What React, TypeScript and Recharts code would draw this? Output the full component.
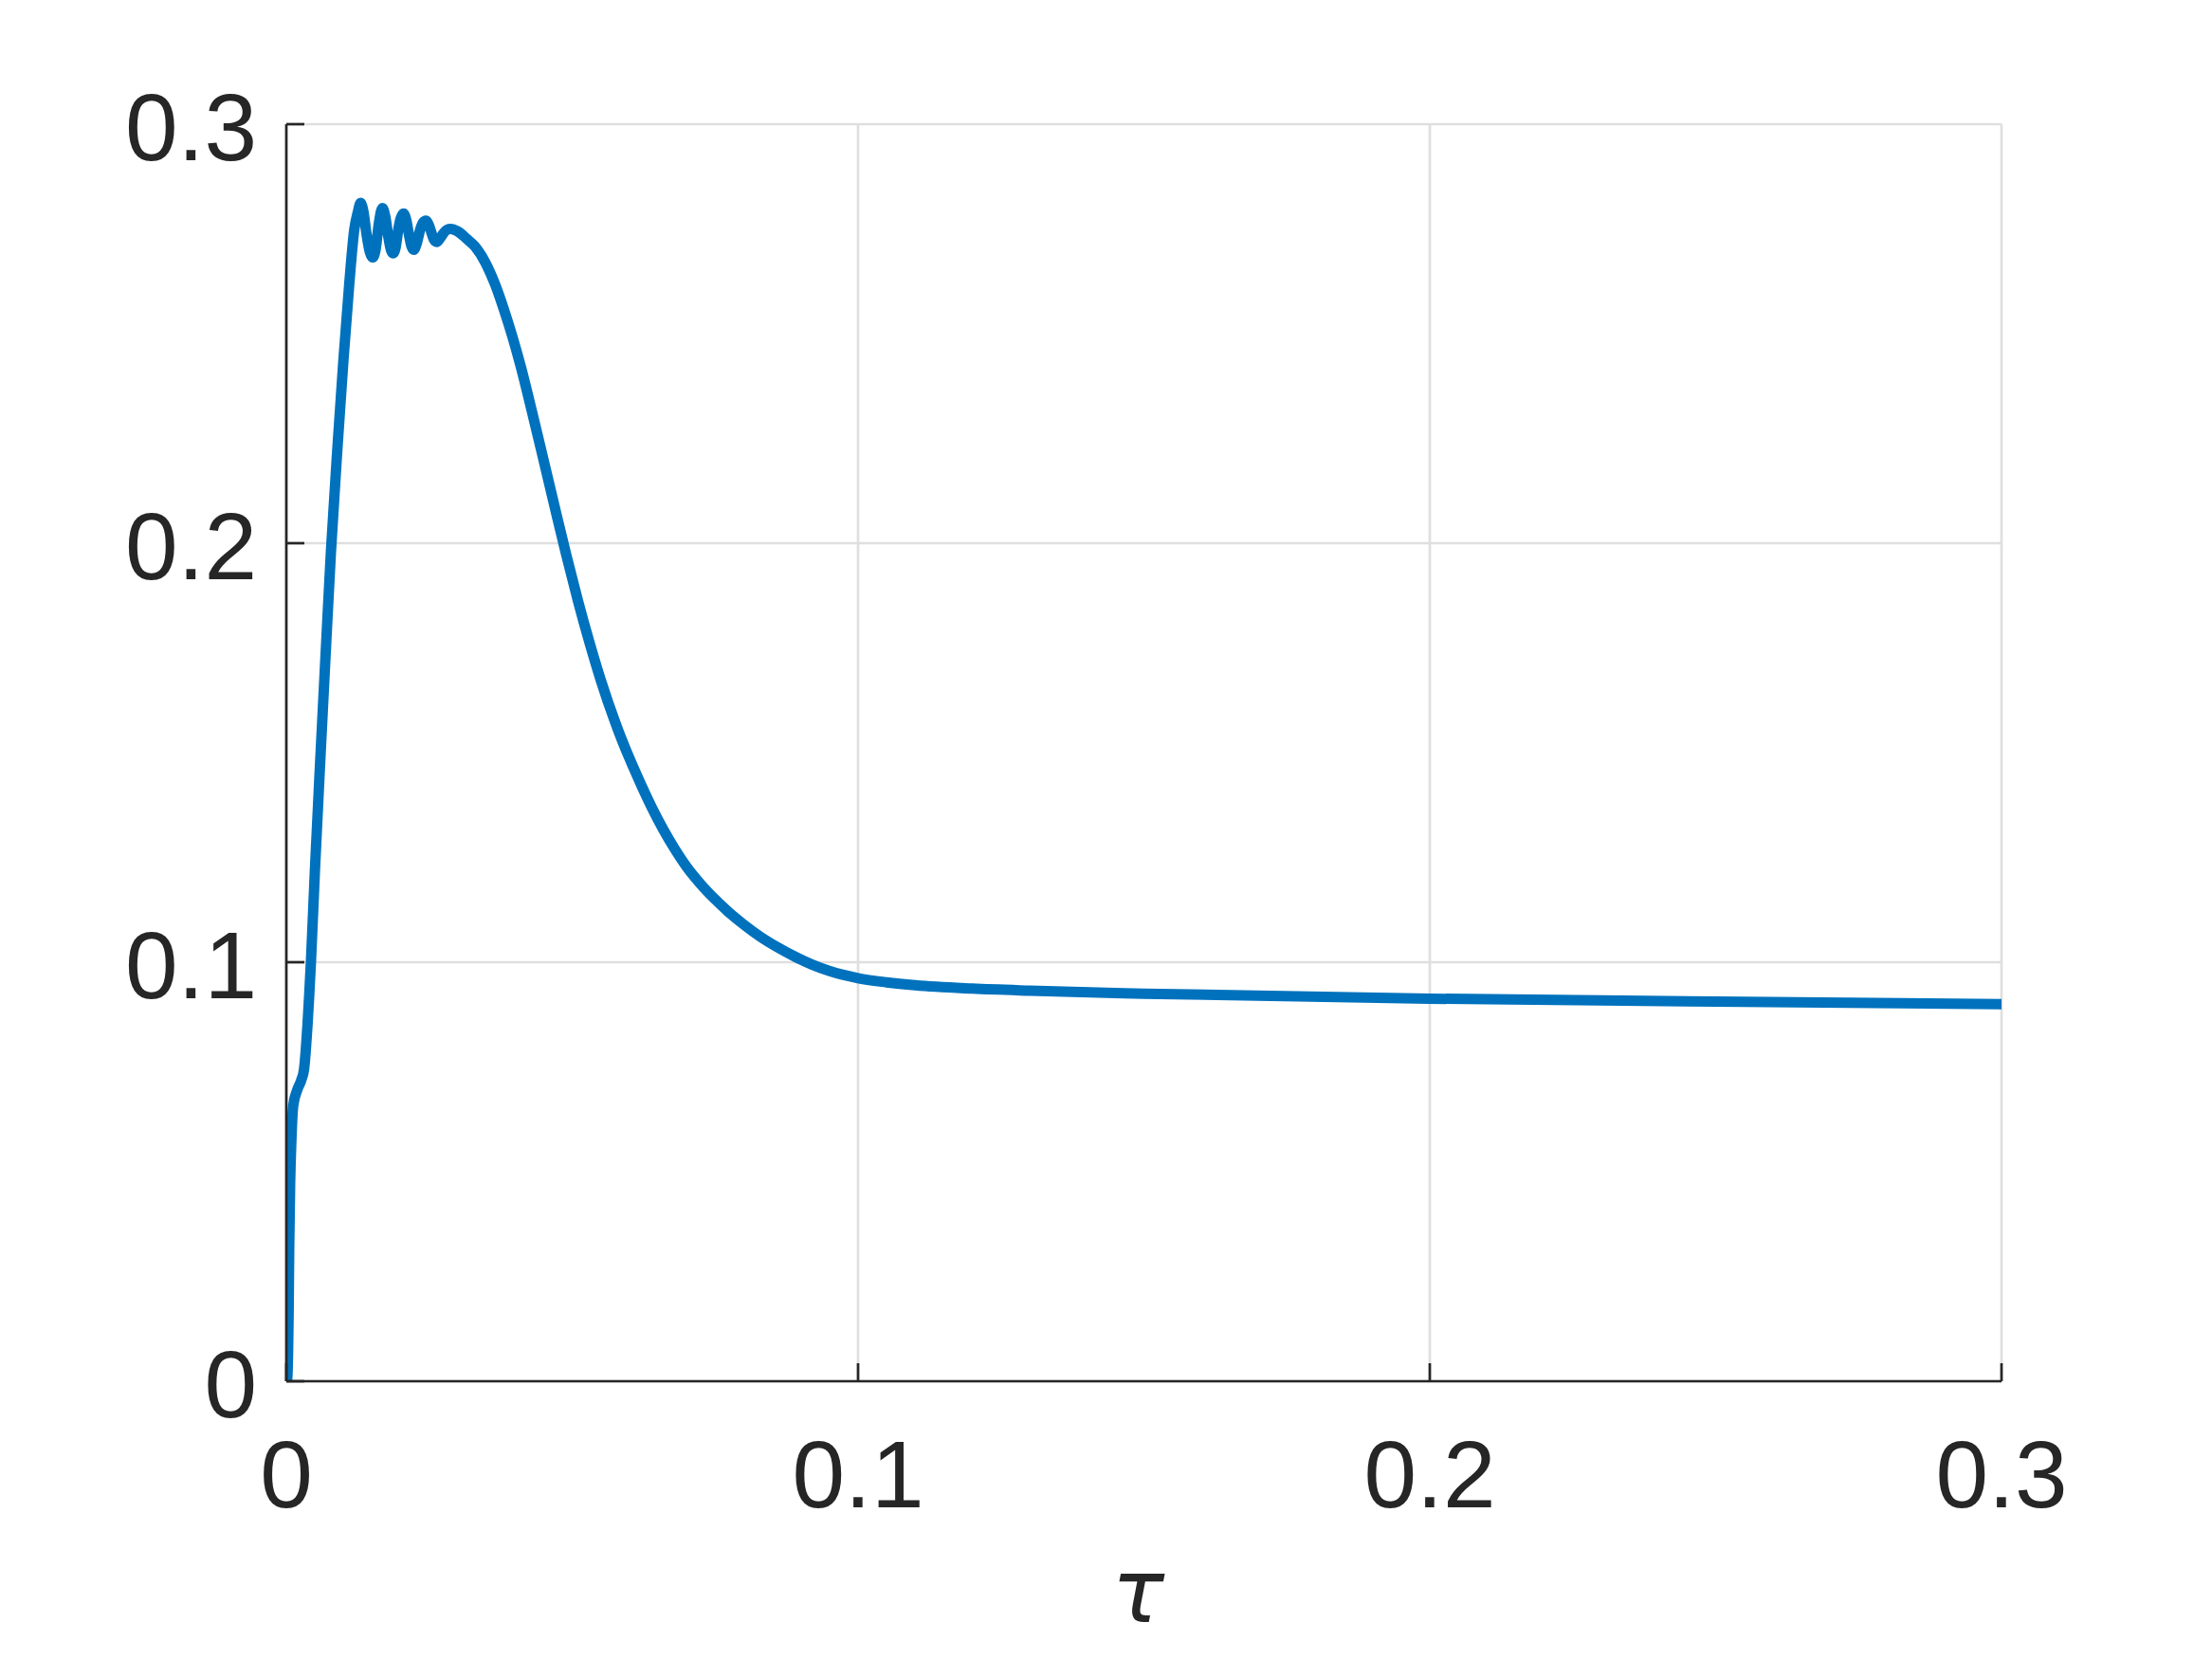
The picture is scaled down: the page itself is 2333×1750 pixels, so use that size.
import React from 'react';
import { LineChart, Line, XAxis, YAxis, CartesianGrid } from 'recharts';

const TAU = [
  0.0001, 0.0002, 0.0004, 0.0005, 0.00066, 0.0009, 0.0012, 0.0019, 0.0026, 0.0031,
  0.0034, 0.0037, 0.004, 0.0043, 0.005, 0.006, 0.007, 0.0078, 0.009, 0.01,
  0.011, 0.0119, 0.0125, 0.013, 0.0135, 0.014, 0.0146, 0.0151, 0.0156, 0.0162,
  0.0168, 0.0173, 0.0178, 0.0183, 0.0187, 0.0191, 0.0196, 0.02, 0.0205, 0.021,
  0.0214, 0.0219, 0.0223, 0.0228, 0.0234, 0.0239, 0.0244, 0.0249, 0.0254, 0.0258,
  0.0263, 0.0269, 0.0275, 0.0281, 0.0287, 0.03, 0.0315, 0.033, 0.0348, 0.0365,
  0.038, 0.0395, 0.041, 0.043, 0.045, 0.047, 0.049, 0.051, 0.053, 0.055,
  0.058, 0.06, 0.062, 0.064, 0.066, 0.068, 0.07, 0.0725, 0.075, 0.0775,
  0.08, 0.083, 0.086, 0.089, 0.092, 0.095, 0.1, 0.105, 0.11, 0.12,
  0.13, 0.15, 0.2, 0.25, 0.3,
];

const VALUE = [
  0, 0.0016, 0.0167, 0.0317, 0.0468, 0.0581, 0.0657, 0.0695, 0.0718, 0.0745,
  0.079, 0.085, 0.0921, 0.1, 0.122, 0.15, 0.177, 0.198, 0.224, 0.244,
  0.2618, 0.275, 0.279, 0.2812, 0.279, 0.274, 0.2695, 0.2682, 0.27, 0.2765,
  0.28, 0.278, 0.2735, 0.27, 0.2692, 0.2705, 0.275, 0.2775, 0.2787, 0.277,
  0.274, 0.2708, 0.27, 0.2715, 0.2748, 0.2765, 0.277, 0.276, 0.274, 0.2725,
  0.2719, 0.2728, 0.274, 0.2748, 0.275, 0.2744, 0.2727, 0.2708, 0.267, 0.2618,
  0.256, 0.2495, 0.2422, 0.2312, 0.2198, 0.2083, 0.197, 0.1863, 0.1764, 0.1673,
  0.1555, 0.1487, 0.1425, 0.1367, 0.1315, 0.1269, 0.1228, 0.1186, 0.115, 0.1118,
  0.109, 0.106, 0.1035, 0.1013, 0.0994, 0.0979, 0.0962, 0.0952, 0.0945, 0.0937,
  0.0932, 0.0925, 0.0913, 0.0906, 0.09,
];

const X_TICKS = [0, 0.1, 0.2, 0.3];
const X_TICK_LABELS = ['0', '0.1', '0.2', '0.3'];
const Y_TICKS = [0, 0.1, 0.2, 0.3];
const Y_TICK_LABELS = ['0', '0.1', '0.2', '0.3'];
const X_LABEL = 'τ';

const data = TAU.map((t, i) => ({ tau: t, value: VALUE[i] }));

const AXIS_COLOR = '#262626';
const FONT = '"Liberation Sans", Arial, Helvetica, sans-serif';

const labelFor = (ticks: number[], labels: string[], v: number) => {
  const i = ticks.findIndex((t) => Math.abs(t - v) < 1e-9);
  return i >= 0 ? labels[i] : String(v);
};

const XTick = (props: any) => {
  const { x, y, payload } = props;
  return (
    <g>
      <line x1={x} x2={x} y1={y} y2={y - 19} stroke={AXIS_COLOR} strokeWidth={2.7} />
      <text x={x} y={y + 133} textAnchor="middle" fontSize={100} fill={AXIS_COLOR} fontFamily={FONT}>
        {labelFor(X_TICKS, X_TICK_LABELS, payload.value)}
      </text>
    </g>
  );
};

const YTick = (props: any) => {
  const { x, y, payload } = props;
  return (
    <g>
      <line x1={x} x2={x + 19} y1={y} y2={y} stroke={AXIS_COLOR} strokeWidth={2.7} />
      <text x={x - 31} y={y + 38} textAnchor="end" fontSize={100} fill={AXIS_COLOR} fontFamily={FONT}>
        {labelFor(Y_TICKS, Y_TICK_LABELS, payload.value)}
      </text>
    </g>
  );
};

const XLabel = (props: any) => {
  const vb = props.viewBox || {};
  const cx = vb.x + vb.width / 2 - 6;
  return (
    <text x={cx} y={vb.y + 254} textAnchor="middle" fontSize={92} fontStyle="italic" fill={AXIS_COLOR} fontFamily='"DejaVu Sans", sans-serif'>
      {X_LABEL}
    </text>
  );
};

export default function App() {
  return (
    <div style={{ position: 'absolute', left: 0, top: 0, width: 2333, height: 1750, background: '#fff' }}>
      <LineChart width={2333} height={1750} data={data} margin={{ top: 131, right: 222, bottom: 193, left: 152 }}>
        <CartesianGrid stroke="#dfdfdf" strokeWidth={2.7} horizontalValues={Y_TICKS} verticalValues={X_TICKS} />
        <XAxis
          dataKey="tau"
          type="number"
          domain={[0, 0.3]}
          ticks={X_TICKS}
          interval={0}
          height={100}
          tickSize={0}
          tickMargin={0}
          tickLine={false}
          axisLine={{ stroke: AXIS_COLOR, strokeWidth: 2.7 }}
          tick={<XTick />}
          label={{ content: <XLabel /> }}
          allowDataOverflow
        />
        <YAxis
          type="number"
          domain={[0, 0.3]}
          ticks={Y_TICKS}
          interval={0}
          width={150}
          tickSize={0}
          tickMargin={0}
          tickLine={false}
          axisLine={{ stroke: AXIS_COLOR, strokeWidth: 2.7 }}
          tick={<YTick />}
          allowDataOverflow
        />
        <Line
          dataKey="value"
          type="monotone"
          stroke="#0072BD"
          strokeWidth={11}
          strokeLinecap="round"
          strokeLinejoin="round"
          dot={false}
          activeDot={false}
          isAnimationActive={false}
        />
      </LineChart>
    </div>
  );
}
